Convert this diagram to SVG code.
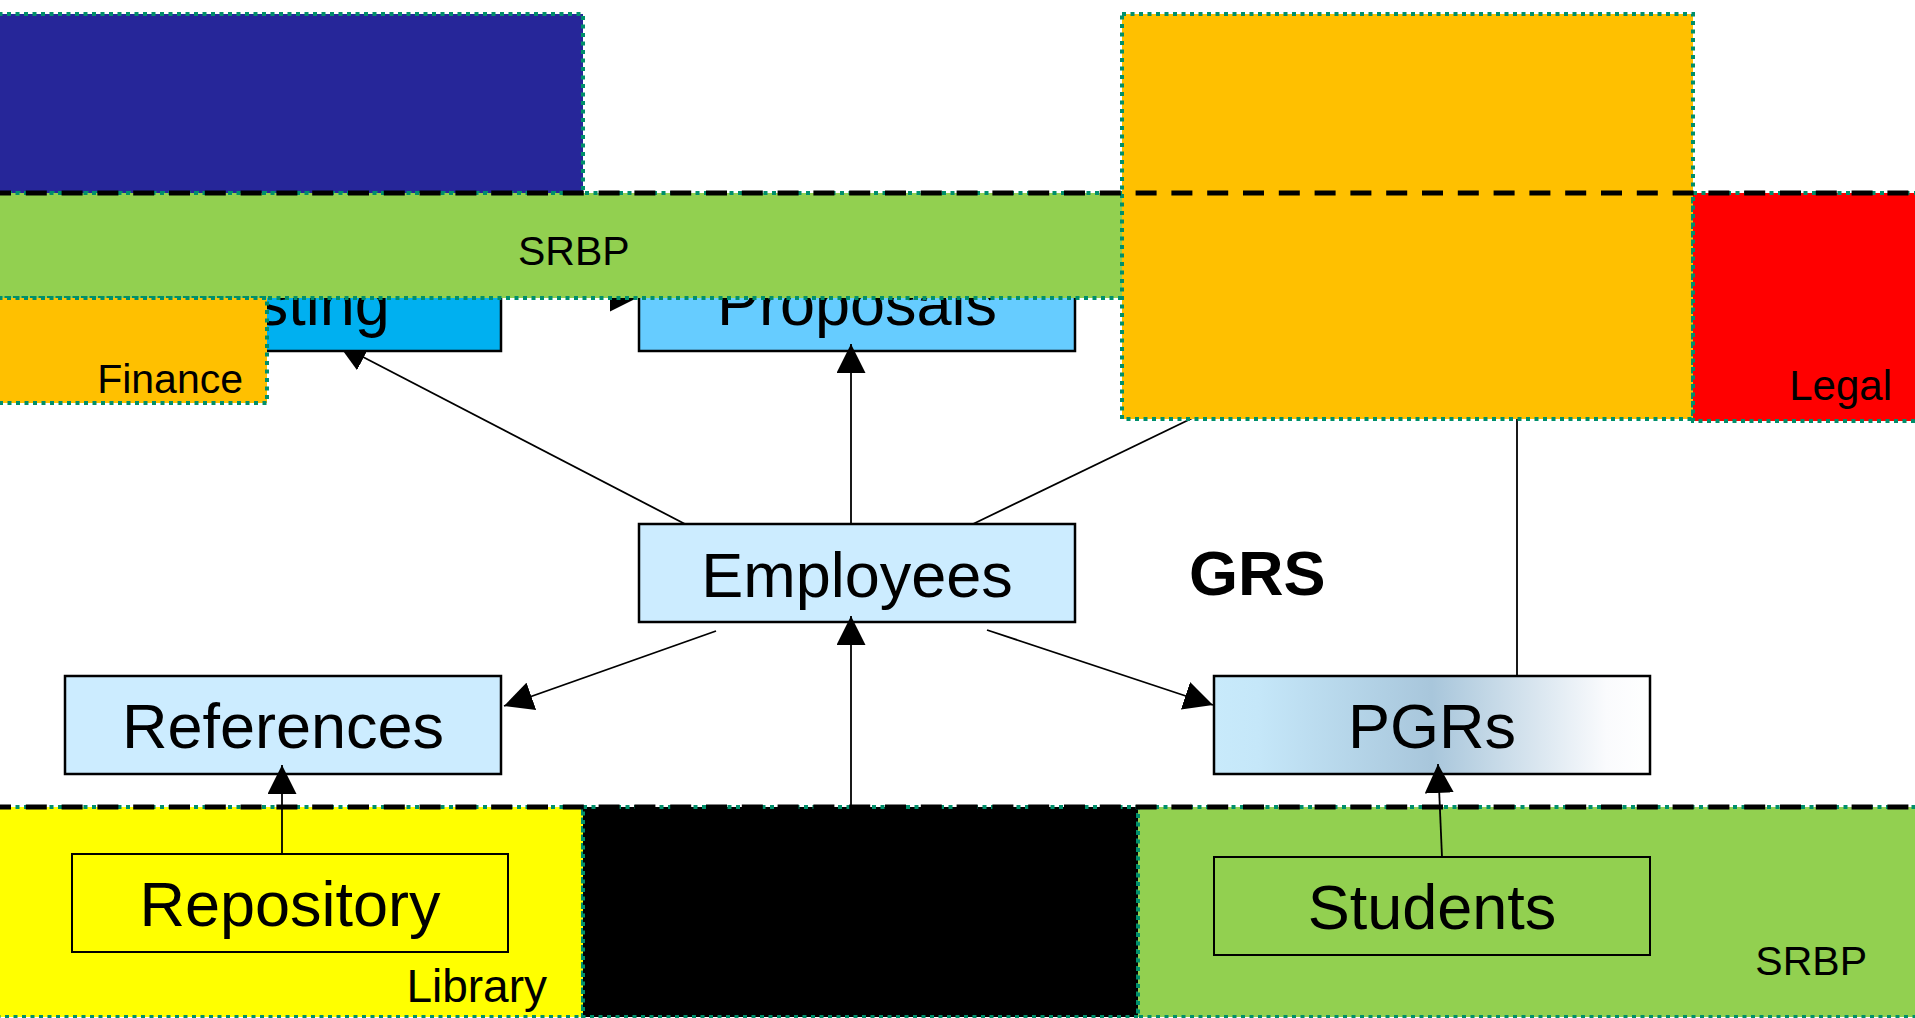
<svg xmlns="http://www.w3.org/2000/svg" width="1915" height="1018" viewBox="0 0 1915 1018">
<defs>
<style>
.grp{stroke:#008F6B;stroke-width:4;stroke-dasharray:4 4.5}
.node{stroke:#000;stroke-width:2.5}
.thin{stroke:#000;stroke-width:2}
.lbl{font-family:"Liberation Sans",Arial,sans-serif;font-size:63px;text-anchor:middle;fill:#000}
.small{font-family:"Liberation Sans",Arial,sans-serif;font-size:41px;text-anchor:end;fill:#000}
.conn line{stroke:#000;stroke-width:1.8;fill:none}
.dash{stroke:#000;stroke-width:5;stroke-dasharray:21 14.8;stroke-dashoffset:10}
</style>
<marker id="arr" viewBox="0 0 29 29" markerUnits="userSpaceOnUse" markerWidth="29" markerHeight="29" refX="29" refY="14.5" orient="auto">
<path d="M0,0 L29,14.5 L0,29 z" fill="#000"/>
</marker>
<linearGradient id="pgrGrad" x1="0" y1="0" x2="1" y2="0">
<stop offset="0" stop-color="#C8EAFB"/>
<stop offset="0.1" stop-color="#C5E7F9"/>
<stop offset="0.5" stop-color="#A8C6DB"/>
<stop offset="0.9" stop-color="#FAFBFD"/>
<stop offset="1" stop-color="#FFFFFF"/>
</linearGradient>
</defs>
<rect x="0" y="0" width="1915" height="1018" fill="#FFFFFF"/>

<g id="proposals">
<rect class="node" x="639" y="253" width="436" height="98" fill="#66CCFF"/>
<text class="lbl" x="857" y="325">Proposals</text>
</g>
<g id="employees">
<rect class="node" x="639" y="524" width="436" height="98" fill="#CCECFF"/>
<text class="lbl" x="857" y="597">Employees</text>
</g>
<g id="references">
<rect class="node" x="65" y="676" width="436" height="98" fill="#CCECFF"/>
<text class="lbl" x="283" y="748">References</text>
</g>
<g id="pgrs">
<rect class="node" x="1214" y="676" width="436" height="98" fill="url(#pgrGrad)"/>
<text class="lbl" x="1432" y="748">PGRs</text>
</g>
<g id="grs">
<text x="1189" y="595" font-family="Liberation Sans, Arial, sans-serif" font-size="63" font-weight="bold" fill="#000">GRS</text>
</g>
<g id="library">
<rect class="grp" x="-10" y="807" width="593" height="210" fill="#FFFF00"/>
<text class="small" x="547" y="1002" style="font-size:46px">Library</text>
</g>
<g id="black-area">
<rect class="grp" x="583" y="807" width="555" height="210" fill="#000000"/>
</g>
<g id="srbp-bottom">
<rect class="grp" x="1138" y="807" width="790" height="210" fill="#92D050"/>
<text class="small" x="1867" y="975">SRBP</text>
</g>
<g id="repository">
<rect class="thin" x="72" y="854" width="436" height="98" fill="#FFFF00"/>
<text class="lbl" x="290" y="926">Repository</text>
</g>
<g id="students">
<rect class="thin" x="1214" y="857" width="436" height="98" fill="#92D050"/>
<text class="lbl" x="1432" y="929">Students</text>
</g>

<g id="connectors" class="conn">
<line x1="851" y1="524" x2="851" y2="344" marker-end="url(#arr)"/>
<line x1="851" y1="808" x2="851" y2="616" marker-end="url(#arr)"/>
<line x1="716" y1="631" x2="504" y2="706" marker-end="url(#arr)"/>
<line x1="987" y1="630" x2="1213" y2="705" marker-end="url(#arr)"/>
<line x1="282" y1="854" x2="282" y2="765" marker-end="url(#arr)"/>
<line x1="1442" y1="857" x2="1438" y2="764" marker-end="url(#arr)"/>
<line x1="685" y1="524" x2="338" y2="344" marker-end="url(#arr)"/>
<line x1="501" y1="297" x2="639" y2="297" marker-end="url(#arr)"/>
<line x1="973" y1="524" x2="1205" y2="412"/>
<line x1="1517" y1="676" x2="1517" y2="410"/>
</g>

<g id="costing">
<rect class="node" x="65" y="253" width="436" height="98" fill="#00B0F0"/>
<text class="lbl" x="283" y="325">Costing</text>
</g>
<g id="dark-blue-area">
<rect class="grp" x="-10" y="14" width="593" height="179" fill="#262699"/>
</g>
<g id="srbp-top">
<rect class="grp" x="-10" y="193" width="1134" height="105" fill="#92D050"/>
<text x="518" y="265" font-family="Liberation Sans, Arial, sans-serif" font-size="41" fill="#000">SRBP</text>
</g>
<g id="finance">
<rect class="grp" x="-10" y="298" width="277" height="105" fill="#FFC000"/>
<text class="small" x="243" y="393">Finance</text>
</g>
<g id="orange-area">
<rect class="grp" x="1122" y="14" width="571" height="405" fill="#FFC000"/>
</g>
<g id="legal">
<rect class="grp" x="1693" y="193" width="235" height="228" fill="#FF0000"/>
<text class="small" x="1892" y="400" style="font-size:42px">Legal</text>
</g>

<g id="boundaries">
<line class="dash" x1="0" y1="193" x2="1915" y2="193"/>
<line class="dash" x1="0" y1="807" x2="1915" y2="807"/>
</g>
</svg>
